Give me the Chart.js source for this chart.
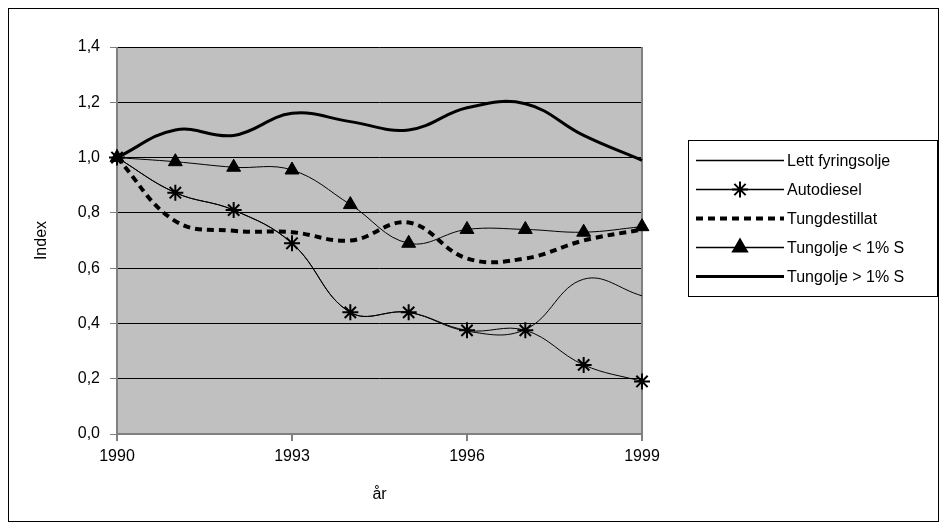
<!DOCTYPE html>
<html>
<head>
<meta charset="utf-8">
<script src="https://cdn.jsdelivr.net/npm/chart.js@4/dist/chart.umd.min.js"></script>
<style>
  body { margin: 0; background: #fff; }
  #wrap { width: 947px; height: 530px; }
</style>
</head>
<body>
<div id="wrap"><canvas id="myChart"></canvas></div>
<script>
// Data
const years = [1990, 1991, 1992, 1993, 1994, 1995, 1996, 1997, 1998, 1999];
const lettFyringsolje = [1.0, 0.873, 0.81, 0.69, 0.44, 0.44, 0.372, 0.378, 0.56, 0.5];
const autodiesel = [1.0, 0.873, 0.81, 0.69, 0.44, 0.44, 0.375, 0.375, 0.25, 0.19];
const tungdestillat = [1.0, 0.77, 0.735, 0.73, 0.7, 0.765, 0.635, 0.635, 0.7, 0.74];
const tungoljeUnder = [1.0, 0.985, 0.965, 0.955, 0.83, 0.69, 0.74, 0.74, 0.73, 0.75];
const tungoljeOver = [1.0, 1.1, 1.08, 1.16, 1.13, 1.1, 1.18, 1.195, 1.08, 0.99];
const xTicks = [1990, 1993, 1996, 1999];
const yTicks = [0, 0.2, 0.4, 0.6, 0.8, 1.0, 1.2, 1.4];

const pts = (arr) => years.map((y, i) => ({ x: y, y: arr[i] }));
const font = { family: "Liberation Sans, Arial", size: 16 };

const datasets = [
  { label: "Lett fyringsolje", data: pts(lettFyringsolje), borderWidth: 1, pointRadius: 0 },
  { label: "Autodiesel", data: pts(autodiesel), borderWidth: 1, pointStyle: "star", pointRadius: 8, pointBorderWidth: 2 },
  { label: "Tungdestillat", data: pts(tungdestillat), borderWidth: 4, borderDash: [7, 5], pointRadius: 0 },
  { label: "Tungolje < 1% S", data: pts(tungoljeUnder), borderWidth: 1, pointStyle: "triangle", pointRadius: 8 },
  { label: "Tungolje > 1% S", data: pts(tungoljeOver), borderWidth: 3, pointRadius: 0 },
].map((d) => ({
  ...d,
  borderColor: "#000",
  backgroundColor: "#000",
  pointBorderColor: "#000",
  pointBackgroundColor: "#000",
  tension: 0.4,
  fill: false,
  clip: false,
}));

// Gray plot area, outer frame and the boxed legend on the right
const framePlugin = {
  id: "frame",
  beforeDraw(c) {
    const { ctx, chartArea: a } = c;
    ctx.save();
    ctx.fillStyle = "#c0c0c0";
    ctx.fillRect(a.left, a.top, a.right - a.left, a.bottom - a.top);
    ctx.restore();
  },
  beforeDatasetsDraw(c) {
    const { ctx, chartArea: a } = c;
    ctx.save();
    ctx.strokeStyle = "#808080";
    ctx.lineWidth = 2;
    ctx.beginPath();
    ctx.moveTo(a.left, a.top);
    ctx.lineTo(a.left, a.bottom);
    ctx.lineTo(a.right, a.bottom);
    ctx.lineTo(a.right, a.top);
    ctx.stroke();
    ctx.restore();
  },
  afterDraw(c) {
    const { ctx } = c;
    ctx.save();
    ctx.strokeStyle = "#000";
    ctx.lineWidth = 1;
    ctx.strokeRect(8.5, 8.5, 930, 513);

    // legend
    const lx = 688, ly = 140, lw = 249, lh = 156;
    ctx.strokeRect(lx + 0.5, ly + 0.5, lw, lh);
    ctx.font = "16px Liberation Sans, Arial";
    ctx.fillStyle = "#000";
    ctx.textBaseline = "middle";
    c.data.datasets.forEach((d, i) => {
      const y = ly + 20.5 + i * 29;
      ctx.beginPath();
      ctx.setLineDash(d.borderDash || []);
      ctx.lineWidth = Math.max(d.borderWidth, 1.5);
      ctx.moveTo(lx + 8, y);
      ctx.lineTo(lx + 96, y);
      ctx.stroke();
      ctx.setLineDash([]);
      if (d.pointRadius > 0) {
        ctx.lineWidth = 2;
        Chart.helpers.drawPoint(ctx, { pointStyle: d.pointStyle, radius: d.pointRadius, borderWidth: 2 }, lx + 52, y);
        if (d.pointStyle === "triangle") ctx.fill();
      }
      ctx.fillText(d.label, lx + 99, y + 1);
    });
    ctx.restore();
  },
};

new Chart(document.getElementById("myChart"), {
  type: "line",
  data: { datasets },
  plugins: [framePlugin],
  options: {
    responsive: true,
    maintainAspectRatio: false,
    animation: false,
    layout: { padding: { top: 47, right: 305, left: 32, bottom: 26 } },
    plugins: { legend: { display: false }, tooltip: { enabled: false } },
    scales: {
      x: {
        type: "linear",
        min: 1990,
        max: 1999,
        afterBuildTicks: (s) => { s.ticks = xTicks.map((v) => ({ value: v })); },
        afterFit: (s) => { s.height = 70; },
        grid: { display: true, drawOnChartArea: false, tickLength: 7, color: "#808080", lineWidth: 2 },
        border: { display: false },
        ticks: { color: "#000", font, padding: 6, maxRotation: 0, callback: (v) => String(v) },
        title: { display: true, text: "år", color: "#000", font, padding: { top: 4, bottom: 0 } },
      },
      y: {
        min: 0,
        max: 1.4,
        afterBuildTicks: (s) => { s.ticks = yTicks.map((v) => ({ value: v })); },
        afterFit: (s) => { s.width = 85; },
        grid: {
          color: (c) => (c.tick && c.tick.value === 0 ? "rgba(0,0,0,0)" : "#000"),
          tickColor: "#808080",
          tickLength: 7,
        },
        border: { display: false },
        ticks: { color: "#000", font, padding: 10, callback: (v) => v.toFixed(1).replace(".", ",") },
        title: { display: true, text: "Index", color: "#000", font, padding: { top: 0, bottom: 0 } },
      },
    },
  },
});
</script>
</body>
</html>
